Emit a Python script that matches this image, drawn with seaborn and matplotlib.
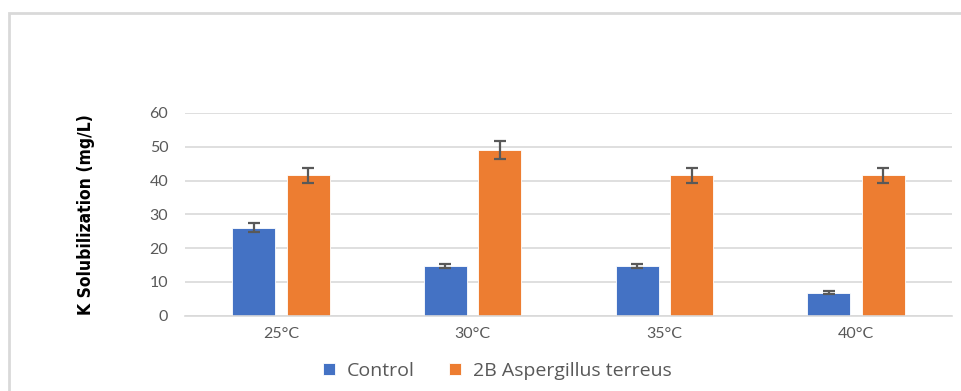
import numpy as np
import pandas as pd
import matplotlib
matplotlib.use("Agg")
import matplotlib.pyplot as plt
import seaborn as sns
from matplotlib.patches import Rectangle

# values
temps = ["25°C", "30°C", "35°C", "40°C"]
control = [26.0, 14.6, 14.6, 6.8]
control_err = [1.4, 0.65, 0.65, 0.5]
aspergillus = [41.5, 49.1, 41.5, 41.5]
aspergillus_err = [2.2, 2.6, 2.2, 2.2]
series = ["Control", "2B Aspergillus terreus"]
colors = ["#4472C4", "#ED7D31"]

df = pd.DataFrame({
    "Temperature": temps * 2,
    "Value": control + aspergillus,
    "Err": control_err + aspergillus_err,
    "Series": [series[0]] * 4 + [series[1]] * 4,
})

sns.set_style("white")
plt.rcParams["font.family"] = ["Lato", "DejaVu Sans"]

fig = plt.figure(figsize=(9.61, 3.91), dpi=100)
ax = fig.add_axes([0.1925, 0.193, 0.798, 0.518])

sns.barplot(data=df, x="Temperature", y="Value", hue="Series", order=temps,
            hue_order=series, palette=colors, saturation=1, width=0.568, gap=0.21,
            errorbar=None, edgecolor="#ffffff", linewidth=0.6, ax=ax)

# error bars on top of each bar
for cont, name in zip(ax.containers, series):
    errs = df.loc[df["Series"] == name, "Err"].values
    xs = [p.get_x() + p.get_width() / 2 for p in cont.patches]
    ys = [p.get_height() for p in cont.patches]
    ax.errorbar(xs, ys, yerr=errs, fmt="none", ecolor="#595959",
                elinewidth=1.6, capsize=4.3, capthick=1.6, zorder=5)

ax.set_ylim(0, 60)
ax.set_yticks(range(0, 61, 10))
ax.set_xlim(-0.5, 3.5)
ax.yaxis.grid(True, color="#d9d9d9", linewidth=1.2)
ax.set_axisbelow(True)
for s in ["top", "right", "left"]:
    ax.spines[s].set_visible(False)
ax.spines["bottom"].set_color("#d9d9d9")
ax.spines["bottom"].set_linewidth(1.2)
ax.tick_params(axis="both", length=0, labelsize=11.5, colors="#595959", pad=12)
ax.tick_params(axis="x", pad=8)

ax.set_xlabel("")
ax.set_ylabel("K Solubilization (mg/L)", fontsize=12.5, fontweight="bold",
              family=["DejaVu Sans"], fontstretch="condensed", color="#000000")
ax.yaxis.set_label_coords(-0.118, 0.5)

handles, labels = ax.get_legend_handles_labels()
ax.legend(handles, labels, loc="center", bbox_to_anchor=(0.407, -0.274), ncol=2,
          frameon=False, prop={"family": ["Open Sans", "DejaVu Sans"], "size": 14},
          labelcolor="#595959", handlelength=0.6, handleheight=0.6,
          handletextpad=0.6, columnspacing=1.8)

# chart-area frame (only left and top visible in the crop)
fig.patches.append(Rectangle((9 / 961, -0.1), 1.2, 1 - 13 / 391 + 0.1,
                             transform=fig.transFigure, fill=False,
                             edgecolor="#d9d9d9", linewidth=2))

fig.savefig("out.png", dpi=100)
